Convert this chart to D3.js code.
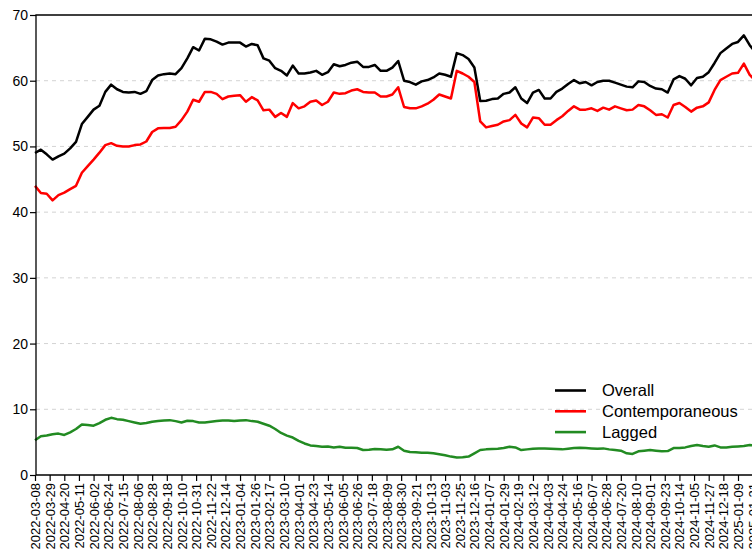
<!DOCTYPE html>
<html><head><meta charset="utf-8">
<script src="https://cdn.jsdelivr.net/npm/d3@7"></script>
<style>
body{margin:0;background:#fff;overflow:hidden}
svg{display:block}
text{font-family:"Liberation Sans",Arial,sans-serif;fill:#000}
</style>
</head><body><svg id="c" width="752" height="549"></svg>
<script>
// ---- data ----
const tickLabels = ["2022-03-08","2022-03-29","2022-04-20","2022-05-11","2022-06-02","2022-06-24","2022-07-15","2022-08-06","2022-08-28","2022-09-18","2022-10-10","2022-10-31","2022-11-22","2022-12-14","2023-01-04","2023-01-26","2023-02-17","2023-03-10","2023-04-01","2023-04-23","2023-05-14","2023-06-05","2023-06-26","2023-07-18","2023-08-09","2023-08-30","2023-09-21","2023-10-13","2023-11-03","2023-11-25","2023-12-16","2024-01-07","2024-01-29","2024-02-19","2024-03-12","2024-04-03","2024-04-24","2024-05-16","2024-06-07","2024-06-28","2024-07-20","2024-08-10","2024-09-01","2024-09-23","2024-10-14","2024-11-05","2024-11-27","2024-12-18","2025-01-09","2025-01-31"];
const daysPerTick = 15; // trading days between labelled ticks
const dayIndex = d3.range(0, 739, 6); // trading-day index of each sample
const overall = [49.0,49.5,48.8,48.0,48.5,48.9,49.7,50.7,53.4,54.5,55.6,56.2,58.3,59.4,58.7,58.3,58.2,58.3,58.0,58.4,60.1,60.8,61.0,61.1,61.0,61.9,63.4,65.1,64.6,66.4,66.3,
65.95,65.5,65.8,65.8,65.8,65.2,65.6,65.4,63.4,63.05,61.9,61.5,60.8,62.3,61.1,61.1,61.25,61.5,60.9,61.3,62.5,62.2,62.4,62.75,62.9,62.1,62.1,62.4,61.5,61.5,62.0,
63.0,60.0,59.8,59.4,59.9,60.1,60.5,61.1,60.9,60.6,64.2,63.9,63.3,62.0,56.9,56.96,57.2,57.3,58.0,58.2,59.0,57.3,56.6,58.2,58.6,57.3,57.3,58.3,58.8,59.5,60.1,
59.6,59.8,59.3,59.8,60.0,60.0,59.7,59.4,59.1,59.0,59.9,59.8,59.2,58.8,58.7,58.2,60.2,60.7,60.3,59.3,60.4,60.6,61.3,62.7,64.2,64.9,65.6,65.9,66.9,65.4,64.3];
const contemporaneous = [44.0,42.9,42.8,41.8,42.6,42.96,43.5,44.0,46.0,47.0,48.0,49.05,50.2,50.5,50.1,50.0,50.0,50.2,50.3,50.75,52.2,52.75,52.8,52.8,53.0,54.0,55.3,57.1,56.8,58.3,58.3,
58.0,57.2,57.6,57.7,57.8,56.8,57.5,57.0,55.5,55.6,54.5,55.1,54.5,56.6,55.8,56.1,56.8,57.0,56.3,56.8,58.2,58.0,58.1,58.5,58.7,58.3,58.2,58.2,57.6,57.6,57.9,
59.0,56.0,55.8,55.8,56.1,56.5,57.1,57.9,57.6,57.3,61.5,61.1,60.6,59.8,53.8,52.9,53.1,53.3,53.8,54.0,54.8,53.5,52.9,54.4,54.3,53.3,53.3,54.0,54.6,55.4,56.1,
55.6,55.6,55.8,55.4,55.9,55.6,56.1,55.8,55.5,55.6,56.3,56.1,55.5,54.8,54.9,54.4,56.3,56.6,56.0,55.3,55.9,56.1,56.7,58.6,60.1,60.6,61.1,61.2,62.6,60.9,60.0];
const lagged = [5.3,5.9,6.0,6.2,6.3,6.1,6.5,7.0,7.7,7.6,7.5,7.9,8.4,8.7,8.5,8.4,8.2,8.0,7.8,7.9,8.1,8.2,8.3,8.35,8.2,8.0,8.25,8.2,8.0,8.0,8.1,
8.2,8.3,8.3,8.2,8.3,8.35,8.2,8.1,7.8,7.5,7.0,6.4,6.0,5.7,5.2,4.8,4.5,4.4,4.3,4.35,4.2,4.3,4.15,4.15,4.1,3.8,3.85,3.95,3.9,3.85,3.9,
4.3,3.7,3.5,3.45,3.4,3.4,3.3,3.15,3.0,2.8,2.65,2.7,2.8,3.3,3.8,3.9,3.95,4.0,4.1,4.3,4.2,3.8,3.9,4.0,4.05,4.05,4.0,3.95,3.9,4.0,4.1,
4.15,4.1,4.05,4.0,4.05,3.9,3.8,3.7,3.3,3.2,3.6,3.7,3.8,3.7,3.6,3.65,4.1,4.1,4.2,4.4,4.55,4.4,4.3,4.5,4.2,4.2,4.3,4.35,4.4,4.55,4.5];
const yTicks = [0,10,20,30,40,50,60,70];
const gridValues = [10,20,30,40,50,60];
const seriesNames = ["Overall","Contemporaneous","Lagged"];
const seriesValues = [overall, contemporaneous, lagged];
const seriesColors = ["#000000","#ff0000","#228b22"];

// ---- chart ----
const mLeft = 36, mTop = 15, mBottom = 475, mRight = 760;
const svg = d3.select("#c");
const x = d3.scaleLinear().domain([0, 48 * daysPerTick]).range([35, 738]);
const y = d3.scaleLinear().domain([0, 70]).range([mBottom, mTop]);

// grid
svg.append("g").selectAll("line").data(gridValues).join("line")
  .attr("x1", mLeft).attr("x2", mRight)
  .attr("y1", d => y(d)).attr("y2", d => y(d))
  .attr("stroke", "#d3d3d3").attr("stroke-width", 1).attr("stroke-dasharray", "4,4");

// lines
const line = d3.line().x((d, i) => x(dayIndex[i])).y(d => y(d));
seriesValues.forEach((vals, k) => {
  svg.append("path").datum(vals)
    .attr("d", line)
    .attr("fill", "none")
    .attr("stroke", seriesColors[k])
    .attr("stroke-width", 2.5)
    .attr("stroke-linejoin", "round");
});

// y axis
const ya = svg.append("g").attr("transform", `translate(${mLeft},0)`)
  .call(d3.axisLeft(y).tickValues(yTicks).tickSize(6).tickSizeOuter(0).tickPadding(2));
ya.select(".domain").remove();
ya.selectAll("line").attr("stroke", "#000").attr("stroke-width", 1.2);
ya.selectAll("text").attr("font-size", "14px").attr("font-family", "Liberation Sans, Arial, sans-serif");

// x axis
const xa = svg.append("g").attr("transform", `translate(0,${mBottom})`)
  .call(d3.axisBottom(x)
    .tickValues(tickLabels.map((_, i) => i * daysPerTick))
    .tickFormat((d, i) => tickLabels[i])
    .tickSize(6).tickSizeOuter(0));
xa.select(".domain").remove();
xa.selectAll("line").attr("stroke", "#000").attr("stroke-width", 1.2);
xa.selectAll("text")
  .attr("font-size", "13px").attr("font-family", "Liberation Sans, Arial, sans-serif")
  .attr("transform", "rotate(-90)")
  .attr("text-anchor", "end")
  .attr("x", -8).attr("y", 0).attr("dy", "0.35em");

// box
svg.append("path")
  .attr("d", `M${mRight},${mTop}H${mLeft}V${mBottom}H${mRight}`)
  .attr("fill", "none").attr("stroke", "#000").attr("stroke-width", 1.3);

// legend
const lg = svg.append("g");
seriesNames.forEach((name, i) => {
  const yy = 390.5 + i * 20.8;
  lg.append("line").attr("x1", 555).attr("x2", 586).attr("y1", yy).attr("y2", yy)
    .attr("stroke", seriesColors[i]).attr("stroke-width", 2.6);
  lg.append("text").attr("x", 602).attr("y", yy).attr("dy", "0.35em")
    .attr("font-size", "16.5px").text(name);
});
</script>
</body></html>
